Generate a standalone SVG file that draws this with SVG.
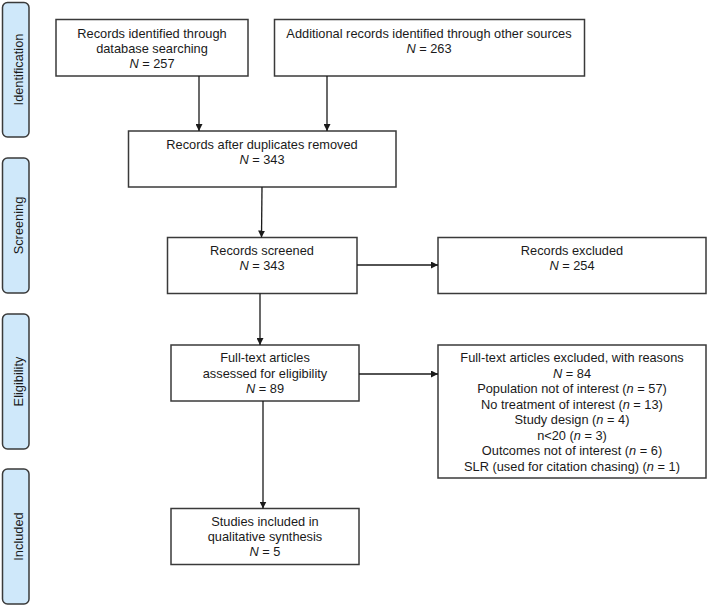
<svg xmlns="http://www.w3.org/2000/svg" width="708" height="607" viewBox="0 0 708 607">
<style>
.bar{fill:#cfe8fa;stroke:#3a3a3a;stroke-width:1.5}
.box{fill:#fff;stroke:#3a3a3a;stroke-width:1.5}
.t{font-family:"Liberation Sans",Arial,sans-serif;font-size:12.8px;fill:#1a1a1a;text-anchor:middle}
.side{font-family:"Liberation Sans",Arial,sans-serif;font-size:12.8px;fill:#1a1a1a;text-anchor:middle}
.edge{stroke:#1a1a1a;stroke-width:1.3;fill:none;marker-end:url(#ah)}
</style>
<defs>
<marker id="ah" viewBox="0 0 10 10" refX="10" refY="5" markerWidth="7" markerHeight="7" markerUnits="userSpaceOnUse" orient="auto">
<path d="M0,0 L10,5 L0,10 Z" fill="#1a1a1a"/>
</marker>
</defs>
<rect width="708" height="607" fill="#fff"/>
<g id="phase-identification"><rect class="bar" x="2.5" y="2.5" width="26.5" height="134.5" rx="5"/><text class="side" transform="translate(22.5,69.5) rotate(-90)">Identification</text></g>
<g id="phase-screening"><rect class="bar" x="2.5" y="158" width="26.5" height="135" rx="5"/><text class="side" transform="translate(22.5,225.5) rotate(-90)">Screening</text></g>
<g id="phase-eligibility"><rect class="bar" x="2.5" y="314" width="26.5" height="135" rx="5"/><text class="side" transform="translate(22.5,381.5) rotate(-90)">Eligibility</text></g>
<g id="phase-included"><rect class="bar" x="2.5" y="469" width="26.5" height="135" rx="5"/><text class="side" transform="translate(22.5,536.5) rotate(-90)">Included</text></g>

<g id="db-search"><rect class="box" x="56" y="19.5" width="192" height="56.5"/>
<text class="t" x="152" y="37.5">Records identified through</text>
<text class="t" x="152" y="52.5">database searching</text>
<text class="t" x="152" y="67.5"><tspan font-style="italic">N</tspan> = 257</text></g>

<g id="other-sources"><rect class="box" x="274.5" y="19.5" width="310" height="56.5"/>
<text class="t" x="429" y="37.5">Additional records identified through other sources</text>
<text class="t" x="429" y="52.5"><tspan font-style="italic">N</tspan> = 263</text></g>

<g id="after-duplicates"><rect class="box" x="128.5" y="131" width="267.5" height="56"/>
<text class="t" x="262" y="148.5">Records after duplicates removed</text>
<text class="t" x="262" y="163.5"><tspan font-style="italic">N</tspan> = 343</text></g>

<g id="screened"><rect class="box" x="167.5" y="237.5" width="189.5" height="56"/>
<text class="t" x="262" y="254.5">Records screened</text>
<text class="t" x="262" y="269.5"><tspan font-style="italic">N</tspan> = 343</text></g>

<g id="excluded"><rect class="box" x="438" y="237.5" width="268" height="56"/>
<text class="t" x="572" y="254.5">Records excluded</text>
<text class="t" x="572" y="269.5"><tspan font-style="italic">N</tspan> = 254</text></g>

<g id="full-text"><rect class="box" x="171" y="345" width="188" height="56"/>
<text class="t" x="265" y="362">Full-text articles</text>
<text class="t" x="265" y="377.5">assessed for eligibility</text>
<text class="t" x="265" y="393"><tspan font-style="italic">N</tspan> = 89</text></g>

<g id="full-text-excluded"><rect class="box" x="438" y="345" width="268" height="133"/>
<text class="t" x="572" y="362">Full-text articles excluded, with reasons</text>
<text class="t" x="572" y="377.5"><tspan font-style="italic">N</tspan> = 84</text>
<text class="t" x="572" y="393">Population not of interest (<tspan font-style="italic">n</tspan> = 57)</text>
<text class="t" x="572" y="408.5">No treatment of interest (<tspan font-style="italic">n</tspan> = 13)</text>
<text class="t" x="572" y="424">Study design (<tspan font-style="italic">n</tspan> = 4)</text>
<text class="t" x="572" y="439.5">n&lt;20 (<tspan font-style="italic">n</tspan> = 3)</text>
<text class="t" x="572" y="455">Outcomes not of interest (<tspan font-style="italic">n</tspan> = 6)</text>
<text class="t" x="572" y="470.5">SLR (used for citation chasing) (<tspan font-style="italic">n</tspan> = 1)</text></g>

<g id="included-studies"><rect class="box" x="171" y="508.5" width="188" height="56"/>
<text class="t" x="265" y="526">Studies included in</text>
<text class="t" x="265" y="541">qualitative synthesis</text>
<text class="t" x="265" y="556"><tspan font-style="italic">N</tspan> = 5</text></g>

<g id="connectors">
<line class="edge" x1="199" y1="76" x2="199" y2="131"/>
<line class="edge" x1="327" y1="76" x2="327" y2="131"/>
<line class="edge" x1="262" y1="187" x2="261.5" y2="237.5"/>
<line class="edge" x1="357" y1="265" x2="438" y2="265"/>
<line class="edge" x1="260" y1="293.5" x2="260" y2="345"/>
<line class="edge" x1="359" y1="374" x2="438" y2="374"/>
<line class="edge" x1="263" y1="401" x2="263" y2="508.5"/>
</g>
</svg>
